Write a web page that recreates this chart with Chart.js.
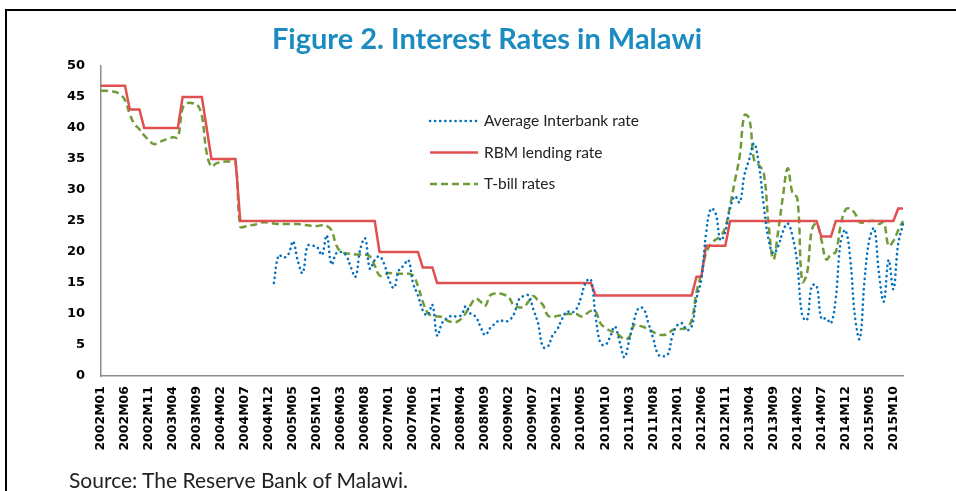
<!DOCTYPE html>
<html>
<head>
<meta charset="utf-8">
<script src="https://cdn.jsdelivr.net/npm/chart.js@4.4.1/dist/chart.umd.min.js"></script>
<style>
  html, body { margin: 0; padding: 0; background: #fff; overflow: hidden; }
  #wrap { position: relative; width: 956px; height: 491px; }
  #frame { position: absolute; left: 5px; top: 9px; width: 2000px; height: 2000px;
           border-top: 2px solid #000; border-left: 2px solid #000; }
  #chart { position: absolute; left: 0; top: 0; }
  #title { position: absolute; left: 0; top: 20px; width: 974px; text-align: center;
           font: bold 29px 'Lato', sans-serif; color: #1b8bc1; white-space: nowrap; }
  #source { position: absolute; left: 69px; top: 467px; font: 21px 'Lato', sans-serif; color: #222; white-space: nowrap; }
</style>
</head>
<body>
<div id="wrap">
  <div id="frame"></div>
  <canvas id="chart" width="956" height="491"></canvas>
  <div id="title">Figure 2. Interest Rates in Malawi</div>
  <div id="source">Source: The Reserve Bank of Malawi.</div>
</div>
<script>
// monthly categories 2002M01 .. 2015M12
const months = [];
for (let y = 2002; y <= 2015; y++) {
    for (let m = 1; m <= 12; m++) {
        months.push(y + 'M' + String(m).padStart(2, '0'));
    }
}

// Average interbank rate (starts 2005M01)
const interbankRate = [
    null, null, null, null, null, null, null, null, null, null, null, null,
    null, null, null, null, null, null, null, null, null, null, null, null,
    null, null, null, null, null, null, null, null, null, null, null, null,
    15.0, 19.5, 19.1, 19.6, 21.7, 18.5, 16.6, 21.0, 21.0, 20.8, 19.5, 22.7,
    18.0, 19.8, 20.0, 19.5, 17.6, 16.0, 20.5, 22.2, 17.3, 18.7, 19.3, 18.0,
    15.5, 14.2, 17.0, 17.8, 18.7, 14.9, 13.0, 10.6, 9.8, 11.5, 6.5, 8.5,
    9.3, 9.7, 9.6, 9.8, 11.3, 10.0, 9.6, 8.0, 6.6, 7.7, 8.4, 9.0,
    8.8, 9.0, 10.0, 12.3, 12.9, 13.0, 10.8, 8.5, 4.7, 4.7, 6.5, 7.5,
    9.2, 10.4, 10.2, 10.8, 12.8, 15.2, 15.6, 9.5, 5.3, 5.0, 6.3, 8.0,
    5.5, 3.0, 5.8, 9.0, 11.0, 10.8, 8.5, 6.0, 3.5, 3.2, 3.4, 6.5,
    8.2, 8.5, 7.4, 8.0, 12.5, 15.5, 23.0, 27.0, 26.2, 21.9, 23.3, 27.0,
    29.0, 28.0, 32.5, 35.0, 37.5, 34.0, 27.5, 22.0, 19.8, 20.9, 23.3, 24.6,
    22.5, 18.0, 9.8, 9.0, 14.5, 14.6, 9.2, 9.3, 8.5, 12.5, 21.5, 23.5,
    19.0, 9.5, 6.0, 15.5, 22.0, 23.8, 16.5, 12.0, 18.7, 14.0, 21.3, 24.5
];

// RBM lending rate
const rbmRate = [
    46.8, 46.8, 46.8, 46.8, 46.8, 46.8, 43, 43, 43, 40, 40, 40,
    40, 40, 40, 40, 40, 45, 45, 45, 45, 45, 40, 35,
    35, 35, 35, 35, 35, 25, 25, 25, 25, 25, 25, 25,
    25, 25, 25, 25, 25, 25, 25, 25, 25, 25, 25, 25,
    25, 25, 25, 25, 25, 25, 25, 25, 25, 25, 20, 20,
    20, 20, 20, 20, 20, 20, 20, 17.5, 17.5, 17.5, 15, 15,
    15, 15, 15, 15, 15, 15, 15, 15, 15, 15, 15, 15,
    15, 15, 15, 15, 15, 15, 15, 15, 15, 15, 15, 15,
    15, 15, 15, 15, 15, 15, 15, 13, 13, 13, 13, 13,
    13, 13, 13, 13, 13, 13, 13, 13, 13, 13, 13, 13,
    13, 13, 13, 13, 16, 16, 21, 21, 21, 21, 21, 25,
    25, 25, 25, 25, 25, 25, 25, 25, 25, 25, 25, 25,
    25, 25, 25, 25, 25, 25, 22.5, 22.5, 22.5, 25, 25, 25,
    25, 25, 25, 25, 25, 25, 25, 25, 25, 25, 27, 27
];

// T-bill rates
const tbillRate = [
    46.0, 46.0, 45.9, 45.8, 45.4, 44.5, 42.2, 40.6, 39.8, 38.8, 38.0, 37.4,
    37.7, 38.0, 38.3, 38.5, 38.5, 43.2, 44.0, 44.0, 43.8, 42.0, 36.0, 33.8,
    34.3, 34.5, 34.6, 34.6, 34.5, 24.1, 24.1, 24.3, 24.4, 24.7, 24.8, 24.7,
    24.6, 24.5, 24.5, 24.5, 24.5, 24.5, 24.4, 24.3, 24.2, 24.2, 24.3, 24.2,
    23.5, 21.1, 20.0, 19.8, 19.7, 19.6, 19.6, 19.6, 19.3, 17.8, 16.2, 16.3,
    16.6, 16.5, 16.5, 16.5, 16.5, 16.2, 14.5, 12.0, 10.2, 9.7, 9.6, 9.5,
    9.0, 8.7, 8.7, 9.2, 10.2, 11.5, 12.5, 12.0, 11.3, 13.0, 13.3, 13.3,
    13.1, 12.6, 11.3, 11.1, 11.1, 12.0, 12.9, 12.2, 11.5, 9.8, 9.5, 9.7,
    9.8, 10.0, 10.0, 10.0, 9.6, 10.0, 10.5, 10.4, 8.5, 7.8, 7.3, 7.0,
    6.5, 5.9, 6.3, 8.2, 8.1, 7.9, 7.5, 7.1, 6.7, 6.6, 6.8, 7.4,
    7.6, 7.6, 7.8, 9.0, 13.5, 16.5, 19.8, 21.3, 22.0, 22.5, 24.0, 27.5,
    31.5, 35.5, 42.1, 41.5, 34.8, 34.0, 32.8, 24.5, 18.8, 23.3, 29.0, 33.5,
    29.5, 28.7, 15.2, 16.5, 23.5, 24.6, 22.0, 18.8, 19.6, 20.0, 24.2, 26.8,
    27.0, 26.2, 24.8, 24.8, 25.0, 25.0, 24.5, 24.8, 21.0, 21.8, 23.5, 25.0
];

const seriesNames = ['Average Interbank rate', 'RBM lending rate', 'T-bill rates'];

// legend drawn inside the plot area, like the original figure
const innerLegend = {
    id: 'innerLegend',
    afterDraw(chart) {
        const { ctx, chartArea } = chart;
        const x0 = chartArea.left + 329;
        const y0 = chartArea.top + 55;
        ctx.save();
        chart.data.datasets.forEach((ds, i) => {
            const y = y0 + i * 31.5;
            ctx.beginPath();
            ctx.strokeStyle = ds.borderColor;
            ctx.lineWidth = ds.borderWidth;
            ctx.lineCap = ds.borderCapStyle || 'butt';
            ctx.setLineDash(ds.borderDash || []);
            ctx.moveTo(x0, y);
            ctx.lineTo(x0 + 48, y);
            ctx.stroke();
            ctx.setLineDash([]);
            ctx.fillStyle = '#222';
            ctx.font = '15.5px Lato';
            ctx.textBaseline = 'middle';
            ctx.fillText(ds.label, x0 + 54, y);
        });
        ctx.restore();
    }
};

const ctx = document.getElementById('chart').getContext('2d');
const chart = new Chart(ctx, {
    type: 'line',
    data: {
        labels: months,
        datasets: [
            {
                label: seriesNames[0],
                data: interbankRate,
                borderColor: '#0070c0',
                borderWidth: 2.6,
                borderDash: [0.1, 5],
                borderCapStyle: 'round',
                pointRadius: 0,
                tension: 0.4,
                fill: false
            },
            {
                label: seriesNames[1],
                data: rbmRate,
                borderColor: '#e05050',
                borderWidth: 2.5,
                pointRadius: 0,
                tension: 0,
                fill: false
            },
            {
                label: seriesNames[2],
                data: tbillRate,
                borderColor: '#719a38',
                borderWidth: 2.5,
                borderDash: [7, 4],
                pointRadius: 0,
                tension: 0.4,
                fill: false
            }
        ]
    },
    options: {
        responsive: false,
        animation: false,
        devicePixelRatio: 1,
        layout: { padding: { left: 0, right: 53, top: 66, bottom: 0 } },
        plugins: {
            legend: { display: false },
            tooltip: { enabled: false },
            title: { display: false }
        },
        scales: {
            x: {
                grid: { display: false, drawTicks: false },
                border: { display: true, color: '#8c8c8c', width: 1.5 },
                ticks: {
                    autoSkip: false,
                    minRotation: 90,
                    maxRotation: 90,
                    padding: 10,
                    color: '#000',
                    font: { family: 'DejaVu Sans', size: 12.5, weight: 'bold' },
                    callback: (val, i) => (i % 5 === 0 ? months[i] : '')
                },
                afterFit: (scale) => { scale.height = 115; }
            },
            y: {
                min: 0,
                max: 50,
                grid: { display: false, drawTicks: false },
                border: { display: true, color: '#8c8c8c', width: 1.5 },
                ticks: {
                    stepSize: 5,
                    padding: 16,
                    color: '#000',
                    font: { family: 'DejaVu Sans', size: 13, weight: 'bold' }
                },
                afterFit: (scale) => { scale.width = 101; }
            }
        }
    },
    plugins: [innerLegend]
});
</script>
</body>
</html>
